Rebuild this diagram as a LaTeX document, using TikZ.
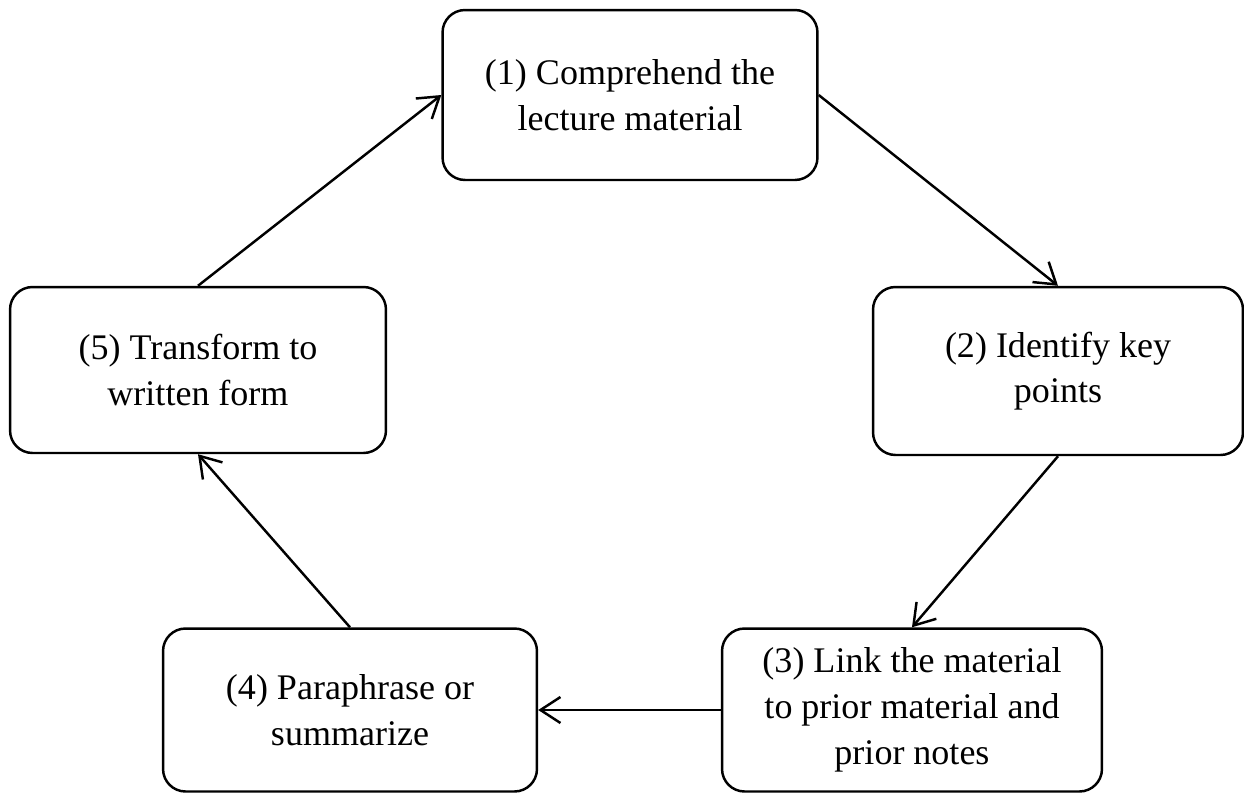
\documentclass[tikz,border=0pt]{standalone}
\usepackage{fontspec}
\setmainfont{Liberation Serif}
\usetikzlibrary{arrows.meta,positioning}

\begin{document}
\begin{tikzpicture}[
  x=0.02cm,y=-0.02cm,
  stepbox/.style={rectangle,draw,line width=1.4pt,rounded corners=0.45cm,fill=white,
    minimum width=7.5cm,minimum height=3.3cm,align=center,
    font=\fontsize{20.5}{26}\selectfont},
  arrow/.style={-{Straight Barb[length=4mm,width=5.2mm,line width=1.4pt]},line width=1.4pt}
]
  \useasboundingbox (0,0) rectangle (1244,795);

  % Cycle steps
  \node[stepbox,minimum height=3.4cm] (s1) at (630,95) {(1) Comprehend the\\lecture material};
  \node[stepbox,minimum width=7.4cm,minimum height=3.36cm] (s2) at (1058,371) {(2) Identify key\\points};
  \node[stepbox,minimum width=7.6cm,minimum height=3.26cm] (s3) at (912,710) {(3) Link the material\\to prior material and\\prior notes};
  \node[stepbox,minimum width=7.48cm,minimum height=3.26cm] (s4) at (350,710) {(4) Paraphrase or\\summarize};
  \node[stepbox,minimum width=7.52cm,minimum height=3.32cm] (s5) at (198,370) {(5) Transform to\\written form};

  \draw[arrow] (s1.east) -- (s2.north);
  \draw[arrow] (s2.south) -- (s3.north);
  \draw[arrow] (s3.west) -- (s4.east);
  \draw[arrow] (s4.north) -- (s5.south);
  \draw[arrow] (s5.north) -- (s1.west);
\end{tikzpicture}
\end{document}
